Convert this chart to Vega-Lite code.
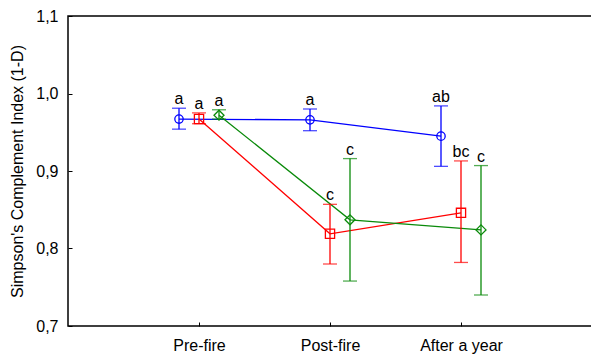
{
  "$schema": "https://vega.github.io/schema/vega-lite/v6.json",
  "width": 524,
  "height": 310,
  "autosize": {"type": "none"},
  "padding": {"left": 68, "top": 16, "right": 0, "bottom": 30},
  "background": "white",
  "config": {
    "view": {"stroke": "black", "strokeWidth": 1.5},
    "font": "Liberation Sans",
    "axis": {"labelFont": "Liberation Sans", "titleFont": "Liberation Sans", "labelColor": "black", "titleColor": "black", "labelFontSize": 16, "titleFontSize": 16, "titleFontWeight": "normal", "grid": false, "domain": false, "tickColor": "black"}
  },
  "data": {"values": [
    {"period": "Pre-fire", "group": "G1", "mean": 0.967, "lo": 0.954, "hi": 0.981, "label": "a"},
    {"period": "Pre-fire", "group": "G2", "mean": 0.967, "lo": 0.961, "hi": 0.975, "label": "a"},
    {"period": "Pre-fire", "group": "G3", "mean": 0.972, "lo": 0.967, "hi": 0.979, "label": "a"},
    {"period": "Post-fire", "group": "G1", "mean": 0.966, "lo": 0.952, "hi": 0.980, "label": "a"},
    {"period": "Post-fire", "group": "G2", "mean": 0.819, "lo": 0.780, "hi": 0.857, "label": "c"},
    {"period": "Post-fire", "group": "G3", "mean": 0.837, "lo": 0.758, "hi": 0.916, "label": "c"},
    {"period": "After a year", "group": "G1", "mean": 0.945, "lo": 0.906, "hi": 0.984, "label": "ab"},
    {"period": "After a year", "group": "G2", "mean": 0.846, "lo": 0.782, "hi": 0.913, "label": "bc"},
    {"period": "After a year", "group": "G3", "mean": 0.824, "lo": 0.740, "hi": 0.907, "label": "c"}
  ]},
  "encoding": {
    "x": {"field": "period", "type": "nominal", "sort": ["Pre-fire", "Post-fire", "After a year"],
          "scale": {"type": "point", "padding": 1},
          "axis": {"title": null, "labelAngle": 0, "tickSize": -4, "labelPadding": 15}},
    "xOffset": {"field": "group", "type": "nominal", "scale": {"type": "point", "domain": ["G1", "G2", "G3"], "range": [-20, 20], "padding": 0}},
    "color": {"field": "group", "type": "nominal", "scale": {"domain": ["G1", "G2", "G3"], "range": ["#0000ff", "#ff0000", "#0a8a0a"]}, "legend": null}
  },
  "layer": [
    {"mark": {"type": "line", "strokeWidth": 1.3},
     "encoding": {"y": {"field": "mean", "type": "quantitative", "scale": {"domain": [0.7, 1.1], "nice": false, "zero": false},
       "axis": {"values": [0.7, 0.8, 0.9, 1.0, 1.1], "tickSize": -4, "labelPadding": 14, "labelExpr": "replace(format(datum.value, '.1f'), '.', ',')", "title": "Simpson's Complement Index (1-D)", "titlePadding": 10}}}},
    {"mark": {"type": "rule", "strokeWidth": 1.3},
     "encoding": {"y": {"field": "lo", "type": "quantitative"}, "y2": {"field": "hi"}}},
    {"mark": {"type": "tick", "thickness": 1.3, "size": 14},
     "encoding": {"y": {"field": "lo", "type": "quantitative"}}},
    {"mark": {"type": "tick", "thickness": 1.3, "size": 14},
     "encoding": {"y": {"field": "hi", "type": "quantitative"}}},
    {"mark": {"type": "point", "filled": false, "strokeWidth": 1.3, "opacity": 1},
     "encoding": {"y": {"field": "mean", "type": "quantitative"},
       "shape": {"field": "group", "type": "nominal", "scale": {"domain": ["G1", "G2", "G3"], "range": ["circle", "square", "diamond"]}, "legend": null},
       "size": {"field": "group", "type": "nominal", "scale": {"domain": ["G1", "G2", "G3"], "range": [70, 100, 40]}, "legend": null}}},
    {"mark": {"type": "text", "baseline": "bottom", "dy": -1, "fontSize": 16, "color": "black"},
     "encoding": {"y": {"field": "hi", "type": "quantitative"}, "text": {"field": "label"}, "color": {"value": "black"}}}
  ]
}
